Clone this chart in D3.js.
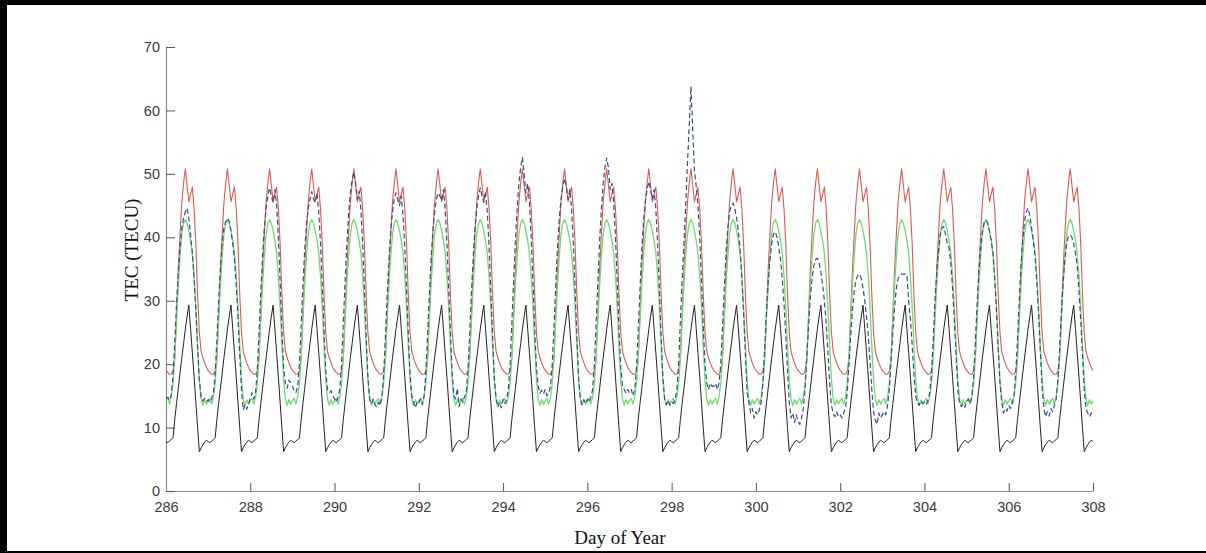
<!DOCTYPE html>
<html>
<head>
<meta charset="utf-8">
<script src="https://cdn.jsdelivr.net/npm/d3@7"></script>
<style>
  html, body { margin: 0; padding: 0; background: #fff; }
  svg { display: block; }
  .tick text { font-family: "Liberation Sans", Arial, sans-serif; font-size: 14.5px; fill: #3a3a3a; }
  .axis-title { font-family: "Liberation Serif", "Times New Roman", serif; font-size: 19px; fill: #111; }
</style>
</head>
<body>
<svg id="chart" width="1206" height="553"></svg>
<script>
// Days on the x axis, one cycle per day, hourly samples
const days = d3.range(286, 308);
const hours = d3.range(24);
const xTicks = d3.range(286, 309, 2);
const yTicks = d3.range(0, 71, 10);

// Daily profiles (same every day), hour 0..23
const upperTec = [19.0, 18.7, 18.4, 18.4, 18.9, 21, 28, 35, 40.5, 45.5, 48.5, 50.8,
                  48.2, 45.6, 46.8, 47.9, 44.5, 39, 31, 25, 22, 21, 20.2, 19.5];
const meanTec  = [14.2, 14.6, 13.7, 14.8, 17, 21, 27, 32.5, 37, 40.5, 42.2, 42.8,
                  42.2, 41, 39.5, 37.5, 34, 29, 23, 17.5, 14.5, 13.5, 14.4, 13.7];
const lowerTec = [7.8, 7.6, 7.9, 8.1, 8.4, 11.3, 13.8, 16.2, 18.6, 21, 23.2, 25.5,
                  27.5, 29.3, 25.6, 21.8, 18, 14, 10, 6.2, 6.8, 7.3, 7.7, 8.0];

// Observed TEC, one row per day (hour 0..23)
const observedTec = [
  [14.6, 14.8, 14.3, 15.2, 18, 23.5, 29.5, 34.5, 38.5, 41.5, 43, 44, 44.6, 43, 40.5, 37.5, 33.5, 28.5, 22.5, 17.5, 14.8, 14.2, 14.6, 14.1],
  [14.4, 14.0, 14.6, 15.5, 18.5, 24, 30, 35, 39, 41.5, 42.5, 43, 42.5, 41, 39, 36.5, 32.5, 27.5, 21.5, 16, 12.8, 13.6, 12.9, 13.8],
  [14.5, 15.5, 14.5, 15.5, 19, 25, 31.5, 37, 41.5, 44.5, 46.5, 47.8, 46.5, 45.5, 47.5, 45, 40, 33, 25.5, 19.5, 17, 16.2, 17.5, 17],
  [16.5, 15.8, 15.5, 16.5, 20, 26, 32.5, 38, 42, 44.5, 46, 47.2, 46, 45.5, 47, 44, 39, 32.5, 25.5, 19, 16, 15.5, 15.8, 15],
  [14.5, 14, 14.8, 16, 20, 26.5, 33, 39, 43.5, 47, 49, 50.3, 48.5, 46, 47.3, 44.5, 39, 32, 24.5, 18, 14.5, 13.8, 14.5, 13.6],
  [13.2, 14, 13.5, 15, 18.5, 24.5, 31, 36.5, 41, 44, 46, 47, 46, 45, 46.5, 43.5, 38.5, 32, 25, 18.5, 15, 14, 13.1, 14],
  [13.8, 14.5, 13.6, 15, 18.5, 24.5, 31, 36.5, 41, 44, 46, 47, 46.5, 45.8, 47.5, 44.5, 39, 32, 25, 18.5, 15, 14.5, 16.2, 13.3],
  [14.5, 14, 14.8, 15.5, 19, 25, 31.5, 37, 41.5, 44.5, 46.5, 47.8, 46.5, 45.5, 47.3, 44, 38.5, 31.5, 24.5, 18, 14.5, 13.2, 14, 13.1],
  [14.5, 13.8, 14.5, 16, 20, 26.5, 33, 39.5, 44.5, 48.5, 51, 52.6, 50, 47, 48.5, 45.5, 40, 33, 25.5, 19.5, 16.5, 15.4, 15.9, 15.3],
  [16, 15, 15.5, 16.5, 20, 26, 32.5, 38.5, 43, 46, 48, 49.3, 48, 46, 47.5, 44.5, 39, 32, 24.5, 18, 14.5, 13.6, 14.4, 13.8],
  [14.5, 14, 14.8, 16, 20, 26.5, 33, 39.5, 44.5, 48.5, 51, 52.5, 51, 47.5, 48.5, 45.5, 40, 33, 25.5, 19.5, 16.7, 16, 15.4, 16],
  [15.5, 16, 15, 16, 19.5, 25.5, 32, 38, 42.5, 45.5, 47.5, 48.8, 47.5, 46, 47.5, 44.5, 39, 32, 24.5, 18, 14.5, 13.6, 14.3, 13.5],
  [14, 13.8, 14.5, 16, 20, 27, 33.5, 39, 45, 51.5, 57.5, 63.8, 57, 50.5, 48, 45, 40, 33, 26, 20, 17, 16, 17, 16.5],
  [16.5, 17, 16, 17, 20, 26, 32, 37.5, 41.5, 44, 45, 45.4, 44.5, 43, 41, 38, 33.5, 28, 21.5, 15.5, 13.9, 12.3, 13, 11.5],
  [12.5, 12, 12.8, 14, 17, 22.5, 28, 33, 36.5, 39, 40.5, 40.9, 40, 38.5, 36.5, 33.5, 29.5, 24.5, 19, 14, 11.5, 12.3, 10.8, 12],
  [11, 10.5, 11.5, 13, 16, 21, 26, 30.5, 33.5, 35.5, 36.5, 36.7, 36, 34.5, 32.5, 30, 26.5, 22, 17, 13.5, 12.3, 11.7, 12.5, 11.7],
  [12, 11.5, 12.3, 13, 15.5, 20, 24.5, 28.5, 31.5, 33.2, 34, 34.2, 33.5, 32, 30, 27.5, 24.5, 20.5, 16, 12.5, 11.2, 10.5, 12.3, 11.5],
  [12, 12.5, 12, 13.5, 16, 20.5, 25, 29, 32, 33.5, 34, 34.2, 34.2, 34.2, 34.2, 30, 27, 23, 18.5, 15, 13.9, 13.5, 14.2, 13.8],
  [14, 13.6, 14.3, 15.5, 18.5, 24, 30, 34.5, 38, 40.5, 41.5, 41.7, 40.5, 39, 38.3, 36, 32, 27, 21.5, 16, 13.8, 13.3, 13.8, 13.2],
  [14, 14.5, 13.8, 15, 18, 23.5, 29.5, 34.5, 38.5, 41, 42.3, 42.7, 42.3, 41, 39.5, 37.5, 33.5, 28.5, 22.5, 17, 14, 12.3, 13, 12.6],
  [13.5, 13, 13.8, 15, 18.5, 24, 30, 35.5, 39.5, 42.5, 44, 44.6, 43.5, 41.5, 39.5, 37, 33, 28, 22, 16.5, 13, 11.7, 12.5, 11.8],
  [13, 12.5, 13.5, 14.5, 17.5, 22.5, 28, 33, 36.5, 39, 40.2, 40.4, 40, 39, 37.5, 35.5, 31.5, 27, 21.5, 16, 13, 12.3, 11.7, 12.3]
];
const observedEnd = 12;

const width = 1206, height = 553;
const svg = d3.select('#chart');

// Frame (black bands at top, left and bottom like the scanned figure)
svg.append('rect').attr('x', 0).attr('y', 0).attr('width', width).attr('height', 5).attr('fill', '#000');
svg.append('rect').attr('x', 0).attr('y', 0).attr('width', 7).attr('height', height).attr('fill', '#000');
svg.append('rect').attr('x', 0).attr('y', 551).attr('width', width).attr('height', 2).attr('fill', '#000');

const x = d3.scaleLinear().domain([286, 308]).range([166, 1093]);
const y = d3.scaleLinear().domain([0, 70]).range([491, 47]);

// Build the time series
function tile(profile) {
  const pts = [];
  days.forEach(d => hours.forEach(h => pts.push([d + h / 24, profile[h]])));
  pts.push([308, profile[0]]);
  return pts;
}
const upperPts = tile(upperTec);
const meanPts = tile(meanTec);
const lowerPts = tile(lowerTec);
const obsPts = [];
days.forEach((d, i) => hours.forEach(h => obsPts.push([d + h / 24, observedTec[i][h]])));
obsPts.push([308, observedEnd]);

const line = d3.line().x(d => x(d[0])).y(d => y(d[1]));

// Axes
const xAxis = svg.append('g')
  .attr('transform', `translate(0,${y(0)})`)
  .call(d3.axisBottom(x).tickValues(xTicks).tickSizeInner(-8).tickSizeOuter(0).tickPadding(11));
const yAxis = svg.append('g')
  .attr('transform', `translate(${x(286)},0)`)
  .call(d3.axisLeft(y).tickValues(yTicks).tickSizeInner(-9).tickSizeOuter(0).tickPadding(6));
[xAxis, yAxis].forEach(g => {
  g.select('.domain').attr('stroke', '#8a8a8a').attr('stroke-width', 1.2);
  g.selectAll('.tick line').attr('stroke', '#555');
});

// Lines
const plot = svg.append('g').attr('fill', 'none').attr('stroke-linejoin', 'round');
plot.append('path').attr('d', line(upperPts)).attr('stroke', '#dc5a52').attr('stroke-width', 1.1);
plot.append('path').attr('d', line(meanPts)).attr('stroke', '#6fdc6f').attr('stroke-width', 1.3);
plot.append('path').attr('d', line(lowerPts)).attr('stroke', '#222').attr('stroke-width', 1);
plot.append('path').attr('d', line(obsPts)).attr('stroke', '#34508c').attr('stroke-width', 1.2)
  .attr('stroke-dasharray', '5,3');

// Axis titles
svg.append('text').attr('class', 'axis-title')
  .attr('transform', `translate(138,250) rotate(-90)`)
  .attr('text-anchor', 'middle')
  .text('TEC (TECU)');
svg.append('text').attr('class', 'axis-title')
  .attr('x', 620).attr('y', 544)
  .attr('text-anchor', 'middle')
  .text('Day of Year');
</script>
</body>
</html>
